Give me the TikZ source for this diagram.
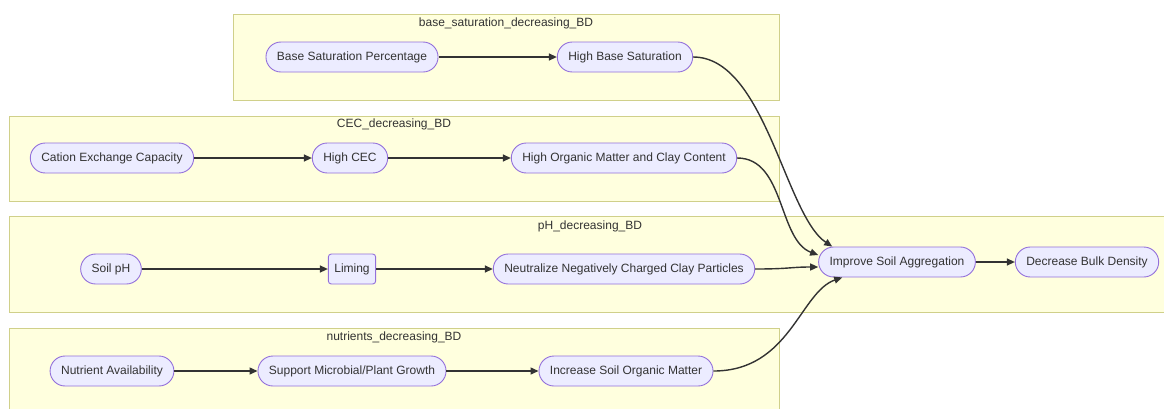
\documentclass[tikz,border=0pt]{standalone}
\usepackage{fontspec}
\setmainfont{Liberation Sans}
\usetikzlibrary{arrows.meta, positioning}

\definecolor{nodefill}{HTML}{ECECFF}
\definecolor{nodeline}{HTML}{9370DB}
\definecolor{boxfill}{HTML}{FFFFDE}
\definecolor{boxline}{HTML}{D0D08A}
\definecolor{ink}{HTML}{333333}

\begin{document}
\begin{tikzpicture}[x=1pt, y=-1pt, >={Triangle[length=8pt,width=7pt]},
    step node/.style={draw=nodeline, fill=nodefill, line width=0.9pt, rounded corners=15pt,
        minimum height=30pt, inner xsep=11pt, text=ink, font=\fontsize{12}{14}\selectfont},
    rect node/.style={step node, rounded corners=3pt, inner xsep=6pt},
    cluster/.style={draw=boxline, fill=boxfill, line width=1pt},
    title/.style={text=ink, font=\fontsize{12}{14}\selectfont},
    link/.style={->, draw=ink, line width=1.4pt}]

    \clip (0,0) rectangle (1164,408);

    % Define subgraphs
    \draw[cluster] (233,14) rectangle (779,100);
    \draw[cluster] (9,116) rectangle (779,201);
    \draw[cluster] (9,216) rectangle (1172,312);
    \draw[cluster] (9,328) rectangle (779,420);
    \node (bstitle) [title] at (506,23) {base\_saturation\_decreasing\_BD};
    \node (cectitle) [title] at (394,124) {CEC\_decreasing\_BD};
    \node (phtitle) [title] at (590,226) {pH\_decreasing\_BD};
    \node (nuttitle) [title] at (394,337) {nutrients\_decreasing\_BD};

    % Define nodes
    \node (bsp) [step node] at (352,57) {Base Saturation Percentage};
    \node (hbs) [step node] at (625,57) {High Base Saturation};
    \node (cec) [step node] at (112,158) {Cation Exchange Capacity};
    \node (hcec) [step node] at (350,158) {High CEC};
    \node (homc) [step node] at (624,158) {High Organic Matter and Clay Content};
    \node (ph) [step node] at (111,269) {Soil pH};
    \node (lime) [rect node] at (352,269) {Liming};
    \node (neut) [step node] at (624,269) {Neutralize Negatively Charged Clay Particles};
    \node (isa) [step node] at (897,262) {Improve Soil Aggregation};
    \node (dbd) [step node] at (1087,262) {Decrease Bulk Density};
    \node (nut) [step node] at (112,371) {Nutrient Availability};
    \node (smpg) [step node] at (352,371) {Support Microbial/Plant Growth};
    \node (isom) [step node] at (626,371) {Increase Soil Organic Matter};

    % Draw arrows
    \draw[link] (bsp) -- (hbs);
    \draw[link] (cec) -- (hcec);
    \draw[link] (hcec) -- (homc);
    \draw[link] (ph) -- (lime);
    \draw[link] (lime) -- (neut);
    \draw[link] (nut) -- (smpg);
    \draw[link] (smpg) -- (isom);
    \draw[link] (isa) -- (dbd);
    \draw[link] (hbs.east) .. controls (765,57) and (785,215) .. ([xshift=14pt]isa.north west);
    \draw[link] (homc.east) .. controls (785,158) and (778,240) .. ([yshift=7pt]isa.west);
    \draw[link] (neut.east) .. controls (790,269) and (790,267) .. ([yshift=-5pt]isa.west);
    \draw[link] (isom.east) .. controls (790,371) and (800,292) .. ([xshift=24pt]isa.south west);

\end{tikzpicture}
\end{document}
